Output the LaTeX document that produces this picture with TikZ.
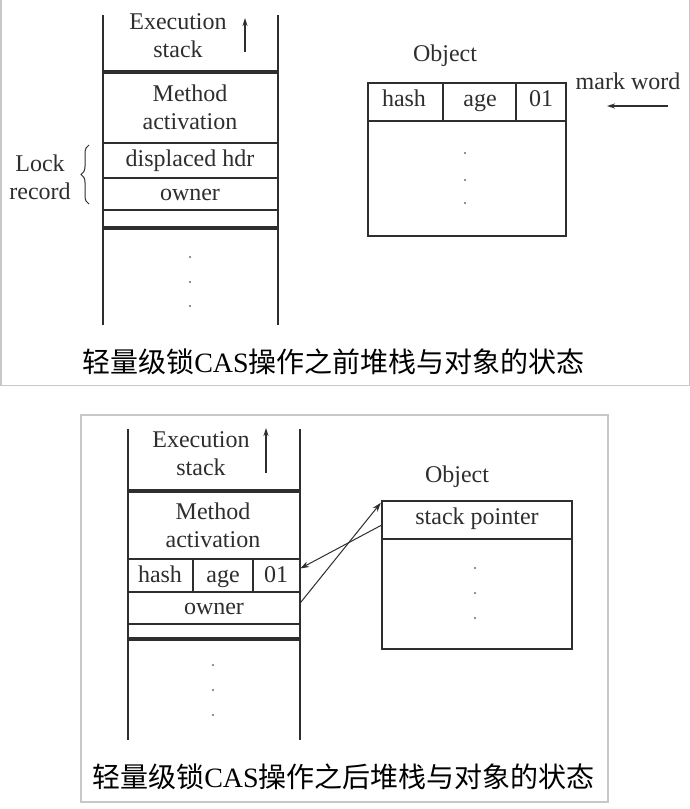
\documentclass[tikz,border=0pt]{standalone}
\usepackage{fontspec}
\setmainfont{Liberation Serif}
\newfontfamily\cjk{Noto Sans CJK SC}
\usetikzlibrary{arrows.meta,decorations.pathreplacing}
\definecolor{ink}{HTML}{2E2E2E}
\definecolor{framegray}{HTML}{C8C8C8}
\tikzset{
  lbl/.style={inner sep=0pt, text=ink, font=\fontsize{24}{28}\selectfont, align=center},
  one/.style={inner sep=0pt, text=ink, font=\fontsize{24}{28}\selectfont, text height=16pt, text depth=5pt},
  captext/.style={inner sep=0pt, text=black, font=\fontsize{28}{30}\selectfont},
  wall/.style={draw=ink, line width=1.5pt},
  heavyline/.style={draw=ink, line width=3.5pt},
  thinline/.style={draw=ink, line width=1.2pt},
  box/.style={draw=ink, line width=1.3pt},
  cell/.style={inner sep=0pt, draw=none},
  panel/.style={draw=framegray, line width=1.5pt},
  dotmark/.style={fill=ink!70},
  ptr/.style={draw=ink, line width=1pt, -{Stealth[length=9pt,width=6pt]}},
}
\begin{document}
\begin{tikzpicture}[x=1pt,y=-1pt]
\useasboundingbox (0,0) rectangle (690,809);
\fill[white] (0,0) rectangle (690,809);

% ---------------- top panel ----------------
\draw[panel] (0.75,-5) rectangle (689.25,385.5);

% stack
\draw[wall] (103,15) -- (103,325);
\draw[wall] (278,15) -- (278,325);
\draw[heavyline] (103,72) -- (278,72);
\draw[thinline] (103,143) -- (278,143);
\draw[thinline] (103,178) -- (278,178);
\draw[thinline] (103,210) -- (278,210);
\draw[heavyline] (103,228) -- (278,228);

\node[lbl] (exec1) at (178,36) {Execution\\stack};
\coordinate (up1a) at (245,52);
\coordinate (up1b) at (245,18);
\draw[draw=ink, line width=1.2pt, -{Stealth[length=8pt,width=5pt]}] (up1a) -- (up1b);
\node[lbl] (meth1) at (190,107) {Method\\activation};
\node[one] (disp1) at (190,161) {displaced hdr};
\node[one] (own1) at (190,195) {owner};
\node[lbl] (lock1) at (40,177) {Lock\\record};
\draw[draw=ink, line width=1pt, decorate,
      decoration={brace, amplitude=8pt}] (89,204) -- (89,145);
\foreach \yy in {257,282,306} \fill[dotmark] (190,\yy) circle (1.1);

% object
\node[one] (obj1) at (445,56) {Object};
\draw[box] (368,83) rectangle (566,236);
\draw[box] (368,121) -- (566,121);
\draw[box] (443,83) -- (443,121);
\draw[box] (516,83) -- (516,121);
\node[one] (hash1) at (404,101) {hash};
\node[one] (age1) at (480,101) {age};
\node[one] (zo1) at (541,101) {01};
\foreach \yy in {153,180,203} \fill[dotmark] (465,\yy) circle (1.1);
\node[one] (mw) at (628,84) {mark word};
\coordinate (mwa) at (668,106);
\coordinate (mwb) at (607,106);
\draw[draw=ink, line width=1.2pt, -{Stealth[length=8pt,width=5pt]}] (mwa) -- (mwb);

\node[captext] (cap1) at (333.5,362) {{\cjk 轻量级锁}CAS{\cjk 操作之前堆栈与对象的状态}};

% ---------------- bottom panel ----------------
\draw[panel] (81,415) rectangle (608,802);

\draw[wall] (128,429) -- (128,740);
\draw[wall] (300,429) -- (300,740);
\draw[heavyline] (128,491) -- (300,491);
\draw[thinline] (128,559) -- (300,559);
\draw[thinline] (128,592) -- (300,592);
\draw[thinline] (128,624) -- (300,624);
\draw[heavyline] (128,639) -- (300,639);
\draw[thinline] (193,559) -- (193,592);
\draw[thinline] (253,559) -- (253,592);

\node[lbl] (exec2) at (201,454) {Execution\\stack};
\coordinate (up2a) at (266,473);
\coordinate (up2b) at (266,428);
\draw[draw=ink, line width=1.2pt, -{Stealth[length=8pt,width=5pt]}] (up2a) -- (up2b);
\node[lbl] (meth2) at (213,525) {Method\\activation};
\node[one] (hash2) at (160,577) {hash};
\node[one] (age2) at (223,577) {age};
\node[one] (zo2) at (276,577) {01};
\node[cell, minimum width=47pt, minimum height=33pt] (cell01) at (276.5,575.5) {};
\node[one] (own2) at (214,609) {owner};
\node[cell, minimum width=172pt, minimum height=32pt] (ownrow) at (214,608) {};
\foreach \yy in {665,690,715} \fill[dotmark] (213,\yy) circle (1.1);

\node[one] (obj2) at (457,477) {Object};
\draw[box] (382,501) rectangle (572,649);
\draw[box] (382,539) -- (572,539);
\node[cell, minimum width=190pt, minimum height=38pt] (sp) at (477,520) {};
\node[one] (sptext) at (477,519) {stack pointer};
\foreach \yy in {568,593,618} \fill[dotmark] (475,\yy) circle (1.1);

\draw[ptr] ([yshift=-5pt]sp.west) -- ([yshift=7pt]cell01.east);
\draw[ptr] ([yshift=5pt]ownrow.east) -- ([xshift=-1pt,yshift=-2pt]sp.north west);

\node[captext] (cap2) at (343.5,777) {{\cjk 轻量级锁}CAS{\cjk 操作之后堆栈与对象的状态}};
\end{tikzpicture}
\end{document}
